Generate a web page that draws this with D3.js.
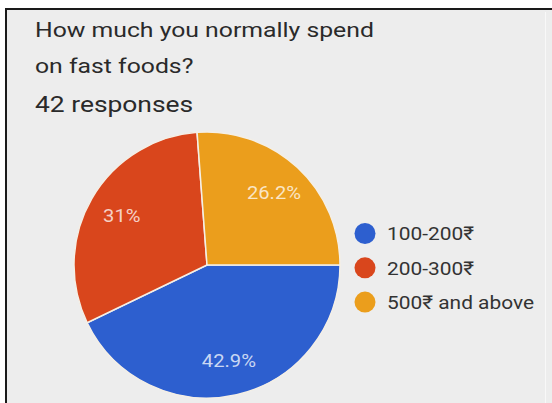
<!DOCTYPE html>
<html>
<head>
<meta charset="utf-8">
<script src="https://cdn.jsdelivr.net/npm/d3@7"></script>
<style>
  html, body { margin: 0; padding: 0; background: #ffffff; }
  svg { display: block; }
  text { font-family: Roboto, "Noto Sans", sans-serif; }
</style>
</head>
<body>
<svg id="chart" width="552" height="403"></svg>
<script>
// Survey question and answer counts
const titleLines = ["How much you normally spend", "on fast foods?"];
const subtitle = "42 responses";
const categories = ["100-200₹", "200-300₹", "500₹ and above"];
const counts = [18, 13, 11];
const percentLabels = ["42.9%", "31%", "26.2%"];
const colors = ["#2d5fcf", "#d9461c", "#eb9e1c"];

const svg = d3.select("#chart");
const W = 552, H = 403;

// card background with dark top/left edge
svg.append("rect").attr("x", 6).attr("y", 9).attr("width", W - 6).attr("height", H - 9)
  .attr("fill", "#ededed");
svg.append("line").attr("x1", 5).attr("x2", W).attr("y1", 9).attr("y2", 9)
  .attr("stroke", "#1a1a1a").attr("stroke-width", 2);
svg.append("line").attr("x1", 6).attr("x2", 6).attr("y1", 8).attr("y2", H)
  .attr("stroke", "#1a1a1a").attr("stroke-width", 2);
svg.append("line").attr("x1", 545.5).attr("x2", 545.5).attr("y1", 12).attr("y2", H)
  .attr("stroke", "#f8f8f8").attr("stroke-width", 1);

// text helper: wide-set lettering via horizontal scale
function wideText(parent, x, y, sx, size, fill, str) {
  return parent.append("text")
    .attr("transform", `translate(${x},${y}) scale(${sx},1)`)
    .attr("font-size", size).attr("fill", fill).text(str);
}

// title
titleLines.forEach((t, i) => wideText(svg, 35, 36.5 + i * 36, 1.18, 21, "#2a2a2a", t));
wideText(svg, 35, 112, 1.2, 22, "#2a2a2a", subtitle);

// pie
const cx = 207, cy = 265, r = 133;
const pie = d3.pie().sort(null)
  .startAngle(Math.PI / 2).endAngle(Math.PI / 2 + 2 * Math.PI);
const arcs = pie(counts);
const arc = d3.arc().innerRadius(0).outerRadius(r);
const labelArc = d3.arc().innerRadius(r * 0.74).outerRadius(r * 0.74);

const g = svg.append("g").attr("transform", `translate(${cx},${cy})`);
g.selectAll("path").data(arcs).join("path")
  .attr("d", arc)
  .attr("fill", (d, i) => colors[i])
  .attr("stroke", "#f4efe6").attr("stroke-width", 1.5);

g.selectAll("text.pct").data(arcs).join("text")
  .attr("class", "pct")
  .attr("transform", d => `translate(${labelArc.centroid(d)}) scale(1.12,1)`)
  .attr("text-anchor", "middle").attr("dy", "0.36em")
  .attr("font-size", 18).attr("fill", "#ffffff").attr("fill-opacity", 0.75)
  .text((d, i) => percentLabels[i]);

// legend
const legend = svg.append("g").attr("transform", "translate(365,233.5)");
categories.forEach((c, i) => {
  const row = legend.append("g").attr("transform", `translate(0,${i * 34.3})`);
  row.append("circle").attr("r", 10.5).attr("fill", colors[i]);
  row.append("text")
    .attr("transform", "translate(22,0) scale(1.1,1)")
    .attr("dy", "0.36em")
    .attr("font-size", 19).attr("fill", "#333333").text(c);
});
</script>
</body>
</html>
